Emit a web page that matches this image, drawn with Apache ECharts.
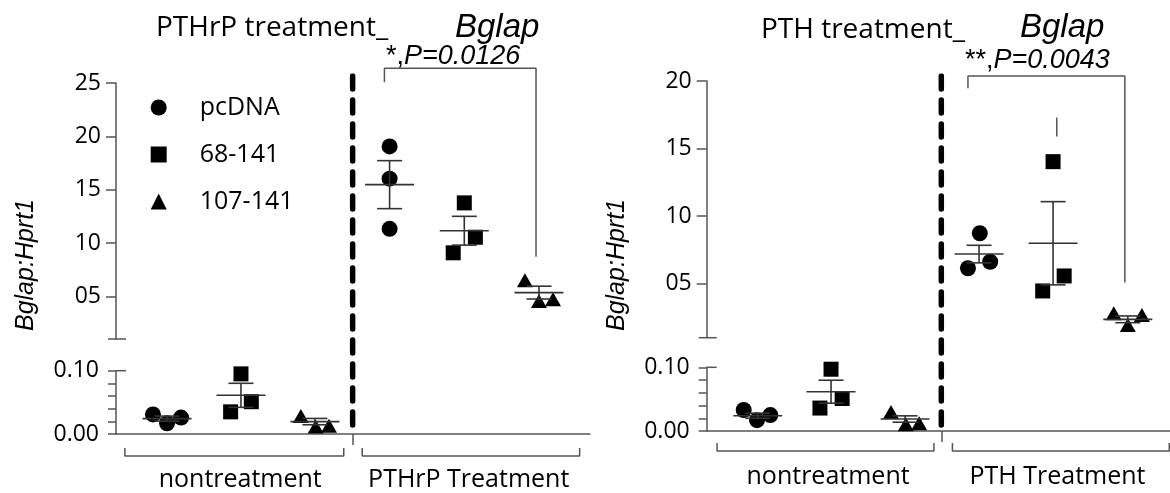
<!DOCTYPE html>
<html>
<head>
<meta charset="utf-8">
<script src="https://cdn.jsdelivr.net/npm/echarts@6/dist/echarts.min.js"></script>
<style>
  html, body { margin: 0; padding: 0; background: #fff; }
  #main { width: 1170px; height: 493px; }
</style>
</head>
<body>
<div id="main"></div>
<script>
// groups (legend)
const groupNames = ['pcDNA', '68-141', '107-141']
const groupSymbols = ['circle', 'rect', 'triangle']
const groupSymbolSize = [16, 15, [16, 14]]

// PTHrP panel: groups 0-2 nontreatment, 3-5 PTHrP treatment
const pthrpGroupX = [0, 1, 2, 3.01, 4.02, 5.03]
const pthrpJitter = [[-0.19, 0, 0.19], [-0.14, 0, 0.14], [-0.19, 0.01, 0.19], [0, 0, 0], [0, 0.15, -0.15], [-0.19, 0, 0.19]]
const pthrpValues = [[0.031, 0.017, 0.026], [0.035, 0.095, 0.051], [0.0285, 0.0118, 0.0129], [19.05, 16.03, 11.33], [13.76, 10.54, 9.08], [6.5, 4.56, 4.72]]
const pthrpMean = [0.0243, 0.0611, 0.0196, 15.47, 11.15, 5.35]
const pthrpSem = [0.004, 0.019, 0.005, 2.25, 1.35, 0.6]
const pthrpSideLabels = ['nontreatment', 'PTHrP Treatment']

// PTH panel
const pthGroupX = [0, 0.99, 1.99, 2.99, 3.99, 5.0]
const pthJitter = [[-0.19, -0.01, 0.17], [-0.15, 0, 0.15], [-0.19, 0.01, 0.19], [0.01, -0.15, 0.15], [0, -0.14, 0.15], [-0.19, 0, 0.19]]
const pthValues = [[0.033, 0.017, 0.025], [0.036, 0.097, 0.051], [0.030, 0.0105, 0.012], [8.73, 6.14, 6.62], [14.03, 4.46, 5.57], [2.81, 1.94, 2.68]]
const pthMean = [0.024, 0.0617, 0.0188, 7.19, 7.99, 2.36]
const pthSem = [0.004, 0.018, 0.005, 0.65, 3.08, 0.25]
const pthSideLabels = ['nontreatment', 'PTH Treatment']
const pthStray = [[4.04, 15.9], [4.04, 17.3]]

// significance brackets [x, y] in upper-axis units
const pthrpSigBracket = [[2.94, 25.07], [2.94, 26.38], [4.99, 26.38], [4.99, 8.72]]
const pthSigBracket = [[2.84, 19.46], [2.84, 20.37], [4.96, 20.37], [4.96, 5.09]]

const upperTicks = { pthrp: [5, 10, 15, 20, 25], pth: [5, 10, 15, 20] }
const lowerTicks = [0, 0.02, 0.04, 0.06, 0.08, 0.1]
const lowerLabels = [0, 0.1]

const axisColor = '#555'
const txt = '#000'
const sans = '"Open Sans", sans-serif'
const ital = '"Liberation Sans", Arial, sans-serif'

const panels = [
  {
    left: 116, width: 474, upperTop: 83, upperH: 256, lowerTop: 370.7, lowerH: 63.3, ovTop: 76, ovH: 358,
    xMin: -0.69, xMax: 5.72, yMax: 25, ticks: upperTicks.pthrp, sepX: 2.51,
    groupX: pthrpGroupX, jitter: pthrpJitter, values: pthrpValues, mean: pthrpMean, sem: pthrpSem,
    sideLabels: pthrpSideLabels, labelX: [0.99, 4.08], sig: pthrpSigBracket,
    brackets: [[-0.57, 2.39], [2.64, 5.58]], brY: [-0.0221, -0.0348]
  },
  {
    left: 706.7, width: 463.3, upperTop: 81, upperH: 256.7, lowerTop: 367.3, lowerH: 63.7, ovTop: 76, ovH: 355,
    xMin: -0.69, xMax: 5.57, yMax: 20, ticks: upperTicks.pth, sepX: 2.48,
    groupX: pthGroupX, jitter: pthJitter, values: pthValues, mean: pthMean, sem: pthSem,
    sideLabels: pthSideLabels, labelX: [0.95, 4.05], sig: pthSigBracket,
    brackets: [[-0.55, 2.38], [2.63, 5.56]], brY: [-0.0188, -0.0314]
  }
]

function meanSem(params, api) {
  const x = api.value(0), m = api.value(1), s = api.value(2)
  const c = api.coord([x, m])
  const t = api.coord([x, m + s])
  const b = api.coord([x, m - s])
  const st = { stroke: '#333', lineWidth: 1.6 }
  return {
    type: 'group',
    children: [
      { type: 'line', shape: { x1: c[0] - 24.5, y1: c[1], x2: c[0] + 24.5, y2: c[1] }, style: st },
      { type: 'line', shape: { x1: c[0], y1: t[1], x2: c[0], y2: b[1] }, style: st },
      { type: 'line', shape: { x1: c[0] - 12.5, y1: t[1], x2: c[0] + 12.5, y2: t[1] }, style: st },
      { type: 'line', shape: { x1: c[0] - 12.5, y1: b[1], x2: c[0] + 12.5, y2: b[1] }, style: st }
    ]
  }
}

const grid = [], xAxis = [], yAxis = [], series = []

panels.forEach((p, i) => {
  const up = i * 3, lo = i * 3 + 1, ov = i * 3 + 2
  grid.push({ left: p.left, top: p.upperTop, width: p.width, height: p.upperH })
  grid.push({ left: p.left, top: p.lowerTop, width: p.width, height: p.lowerH })
  grid.push({ left: p.left, top: p.ovTop, width: p.width, height: p.ovH })

  xAxis.push({ type: 'value', gridIndex: up, min: p.xMin, max: p.xMax, show: false })
  xAxis.push({
    type: 'value', gridIndex: lo, min: p.xMin, max: p.xMax,
    axisLine: { onZero: false, lineStyle: { color: axisColor, width: 1.5 } },
    axisTick: { customValues: [p.sepX], length: 11, lineStyle: { color: axisColor, width: 1.5 } },
    axisLabel: {
      customValues: p.labelX, margin: 33, fontSize: 25, fontFamily: sans, color: txt,
      formatter: v => (v === p.labelX[0] ? p.sideLabels[0] : p.sideLabels[1])
    },
    splitLine: { show: false }
  })
  xAxis.push({ type: 'value', gridIndex: ov, min: p.xMin, max: p.xMax, show: false })

  yAxis.push({
    type: 'value', gridIndex: up, min: 1, max: p.yMax,
    axisLine: { show: true, onZero: false, lineStyle: { color: axisColor, width: 1.5 } },
    axisTick: { show: true, customValues: p.ticks, length: 10, lineStyle: { color: axisColor, width: 1.5 } },
    axisLabel: {
      customValues: p.ticks, margin: 15, fontSize: 23, fontFamily: sans, color: txt,
      formatter: v => (v < 10 ? '0' + v : String(v))
    },
    splitLine: { show: false }
  })
  yAxis.push({
    type: 'value', gridIndex: lo, min: 0, max: 0.1,
    axisLine: { show: true, onZero: false, lineStyle: { color: axisColor, width: 1.5 } },
    axisTick: { show: true, customValues: lowerTicks, length: 8, lineStyle: { color: axisColor, width: 1.5 } },
    axisLabel: {
      customValues: lowerLabels, margin: 17, fontSize: 23, fontFamily: sans, color: txt,
      formatter: v => v.toFixed(2)
    },
    splitLine: { show: false }
  })
  yAxis.push({ type: 'value', gridIndex: ov, min: 0, max: 1, show: false })

  groupNames.forEach((name, k) => {
    ;[k, k + 3].forEach((g, j) => {
      const gi = j === 0 ? lo : up
      series.push({
        name, type: 'scatter', xAxisIndex: gi, yAxisIndex: gi,
        symbol: groupSymbols[k], symbolSize: groupSymbolSize[k],
        itemStyle: { color: '#000', opacity: 1 }, z: 2, clip: false,
        data: p.values[g].map((v, n) => [p.groupX[g] + p.jitter[g][n], v])
      })
    })
  })

  series.push({
    type: 'custom', xAxisIndex: lo, yAxisIndex: lo, renderItem: meanSem, z: 3, clip: false,
    data: [0, 1, 2].map(g => [p.groupX[g], p.mean[g], p.sem[g]])
  })
  series.push({
    type: 'custom', xAxisIndex: up, yAxisIndex: up, renderItem: meanSem, z: 3, clip: false,
    data: [3, 4, 5].map(g => [p.groupX[g], p.mean[g], p.sem[g]])
  })

  // dashed separator between nontreatment and treatment
  series.push({
    type: 'line', xAxisIndex: ov, yAxisIndex: ov, symbol: 'none', silent: true, z: 4,
    lineStyle: { color: '#000', width: 5.5, type: [13, 11], cap: 'round' },
    data: [[p.sepX, 1], [p.sepX, 0]]
  })

  // significance bracket
  series.push({
    type: 'line', xAxisIndex: up, yAxisIndex: up, symbol: 'none', silent: true, clip: false,
    lineStyle: { color: axisColor, width: 1.5 }, data: p.sig
  })

  // group brackets below the axis
  p.brackets.forEach(b => {
    series.push({
      type: 'line', xAxisIndex: lo, yAxisIndex: lo, symbol: 'none', silent: true, clip: false,
      lineStyle: { color: axisColor, width: 1.5 },
      data: [[b[0], p.brY[0]], [b[0], p.brY[1]], [b[1], p.brY[1]], [b[1], p.brY[0]]]
    })
  })
})

series.push({
  type: 'line', xAxisIndex: 3, yAxisIndex: 3, symbol: 'none', silent: true, clip: false,
  lineStyle: { color: axisColor, width: 1.5 }, data: pthStray
})

const titleStyle = { fontSize: 28, fontWeight: 'normal', fontFamily: sans, color: txt }
const italStyle = { fontSize: 33, fontWeight: 'normal', fontStyle: 'italic', fontFamily: ital, color: txt }
const pStyle = {
  fontSize: 27, fontWeight: 'normal', fontFamily: ital, color: txt,
  rich: { i: { fontSize: 27, fontStyle: 'italic', fontFamily: ital, color: txt } }
}

const option = {
  backgroundColor: '#fff',
  animation: false,
  title: [
    { text: 'PTHrP treatment_', left: 151, top: 9, textStyle: titleStyle },
    { text: 'Bglap', left: 450, top: 6, textStyle: italStyle },
    { text: '*,{i|P=0.0126}', left: 381, top: 38, textStyle: pStyle },
    { text: 'PTH treatment_', left: 756, top: 11, textStyle: titleStyle },
    { text: 'Bglap', left: 1015, top: 6, textStyle: italStyle },
    { text: '**,{i|P=0.0043}', left: 960, top: 42, textStyle: pStyle }
  ],
  legend: {
    data: groupNames, orient: 'vertical', left: 145.7, top: 90,
    itemWidth: 16, itemHeight: 16, itemGap: 22, selectedMode: false,
    textStyle: { fontSize: 25, fontFamily: sans, color: txt, lineHeight: 24, padding: [0, 0, 0, 28] }
  },
  grid, xAxis, yAxis, series
}

const chart = echarts.init(document.getElementById('main'))
chart.setOption(option)

// axis break marks and y-axis names
const graphic = []
panels.forEach((p, i) => {
  const a = chart.convertToPixel({ gridIndex: i * 3 }, [p.xMin, 1])
  const b = chart.convertToPixel({ gridIndex: i * 3 + 1 }, [p.xMin, 0.1])
  graphic.push({ type: 'line', shape: { x1: a[0] - 8, y1: a[1], x2: a[0] + 10, y2: a[1] }, style: { stroke: axisColor, lineWidth: 1.5 } })
  graphic.push({ type: 'line', shape: { x1: b[0], y1: b[1], x2: b[0] + 10, y2: b[1] }, style: { stroke: axisColor, lineWidth: 1.5 } })
  graphic.push({
    type: 'text', x: p.left - 90, y: 265, rotation: Math.PI / 2,
    style: { text: 'Bglap:Hprt1', fontSize: 25, fontStyle: 'italic', fontFamily: ital, fill: txt, align: 'center', verticalAlign: 'middle' }
  })
})
chart.setOption({ graphic })
</script>
</body>
</html>
